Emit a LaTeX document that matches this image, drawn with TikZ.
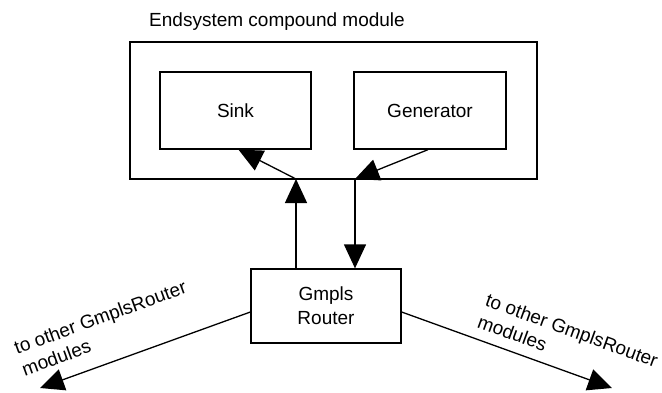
\documentclass[tikz,border=0pt]{standalone}
\usepackage{fontspec}
\setmainfont{Liberation Sans}
\usetikzlibrary{calc,arrows.meta}
\tikzset{
	module/.style={draw,line width=1.3pt,inner sep=0pt,font=\fontsize{19}{24}\selectfont,align=center},
	link/.style={line width=1.3pt,-{Triangle[length=24pt,width=22pt]}},
	txt/.style={font=\fontsize{19}{23}\selectfont}
}

\begin{document}
\begin{tikzpicture}[x=1pt,y=-1pt]
		\useasboundingbox (0,0) rectangle (662,392);
		\node (endsys) at (333.5,110.5) [module,minimum width=407pt,minimum height=137pt] {};
		\node (title) at (149,26) [txt,anchor=base west,inner sep=0pt] {Endsystem compound module};
		\node (sink) at (235.5,110.5) [module,minimum width=151pt,minimum height=77pt] {Sink};
		\node (gen) at (430,110.5) [module,minimum width=152pt,minimum height=77pt] {Generator};
		\node (router) at (326,306) [module,minimum width=150pt,minimum height=74pt] {Gmpls\\Router};
		% ports on the lower edge of the compound module
		\coordinate (inS) at (296,179);
		\coordinate (inG) at (355,179);
		\coordinate (toL) at (40,388);
		\coordinate (toR) at (612,388);
		\draw[link] (router.north -| inS) -- (inS);
		\draw[link] (inS) -- ($(sink.south)+(3,0)$);
		\draw[link] ($(gen.south)+(-2,0)$) -- (inG);
		\draw[link] (inG) -- (inG |- router.north);
		\draw[link] ($(router.west)+(0,6)$) -- (toL);
		\draw[link] ($(router.east)+(0,6)$) -- (toR);
		\node (otherL) at (104,328) [txt,rotate=20,align=left] {to other GmplsRouter\\modules};
		\node (otherR) at (568,341) [txt,rotate=-20,align=left] {to other GmplsRouter\\modules};
	\end{tikzpicture}
\end{document}
